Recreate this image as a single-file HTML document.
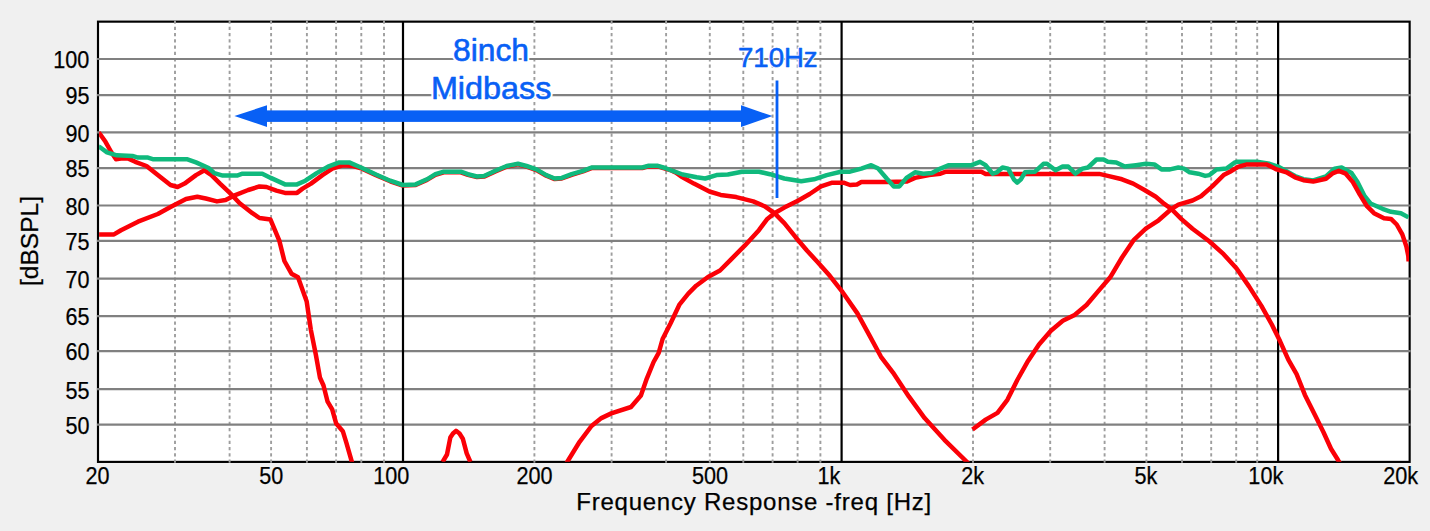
<!DOCTYPE html>
<html><head><meta charset="utf-8"><title>Frequency Response</title>
<style>
html,body{margin:0;padding:0;background:#f0f0f0;}
body{width:1430px;height:531px;overflow:hidden;font-family:"Liberation Sans",sans-serif;}
svg{display:block;font-family:"Liberation Sans",sans-serif;}
</style></head><body>
<svg width="1430" height="531" viewBox="0 0 1430 531">
<defs><clipPath id="c"><rect x="99.1" y="22.75" width="1309.95" height="438.95"/></clipPath></defs>
<rect x="0" y="0" width="1430" height="531" fill="#f0f0f0"/>
<rect x="98.0" y="21.65" width="1311.65" height="440.25" fill="#fff" stroke="#000" stroke-width="2.15"/>
<line x1="175.0" y1="20.5" x2="175.0" y2="462.9" stroke="#9e9e9e" stroke-width="1.9" stroke-dasharray="3.25 3.021"/>
<line x1="229.6" y1="20.5" x2="229.6" y2="462.9" stroke="#9e9e9e" stroke-width="1.9" stroke-dasharray="3.25 3.021"/>
<line x1="271.1" y1="20.5" x2="271.1" y2="462.9" stroke="#9e9e9e" stroke-width="1.9" stroke-dasharray="3.25 3.021"/>
<line x1="306.9" y1="20.5" x2="306.9" y2="462.9" stroke="#9e9e9e" stroke-width="1.9" stroke-dasharray="3.25 3.021"/>
<line x1="336.1" y1="20.5" x2="336.1" y2="462.9" stroke="#9e9e9e" stroke-width="1.9" stroke-dasharray="3.25 3.021"/>
<line x1="361.3" y1="20.5" x2="361.3" y2="462.9" stroke="#9e9e9e" stroke-width="1.9" stroke-dasharray="3.25 3.021"/>
<line x1="384.0" y1="20.5" x2="384.0" y2="462.9" stroke="#9e9e9e" stroke-width="1.9" stroke-dasharray="3.25 3.021"/>
<line x1="534.4" y1="20.5" x2="534.4" y2="462.9" stroke="#9e9e9e" stroke-width="1.9" stroke-dasharray="3.25 3.021"/>
<line x1="611.6" y1="20.5" x2="611.6" y2="462.9" stroke="#9e9e9e" stroke-width="1.9" stroke-dasharray="3.25 3.021"/>
<line x1="666.1" y1="20.5" x2="666.1" y2="462.9" stroke="#9e9e9e" stroke-width="1.9" stroke-dasharray="3.25 3.021"/>
<line x1="709.8" y1="20.5" x2="709.8" y2="462.9" stroke="#9e9e9e" stroke-width="1.9" stroke-dasharray="3.25 3.021"/>
<line x1="743.3" y1="20.5" x2="743.3" y2="462.9" stroke="#9e9e9e" stroke-width="1.9" stroke-dasharray="3.25 3.021"/>
<line x1="772.6" y1="20.5" x2="772.6" y2="462.9" stroke="#9e9e9e" stroke-width="1.9" stroke-dasharray="3.25 3.021"/>
<line x1="797.6" y1="20.5" x2="797.6" y2="462.9" stroke="#9e9e9e" stroke-width="1.9" stroke-dasharray="3.25 3.021"/>
<line x1="820.4" y1="20.5" x2="820.4" y2="462.9" stroke="#9e9e9e" stroke-width="1.9" stroke-dasharray="3.25 3.021"/>
<line x1="973.0" y1="20.5" x2="973.0" y2="462.9" stroke="#9e9e9e" stroke-width="1.9" stroke-dasharray="3.25 3.021"/>
<line x1="1050.2" y1="20.5" x2="1050.2" y2="462.9" stroke="#9e9e9e" stroke-width="1.9" stroke-dasharray="3.25 3.021"/>
<line x1="1104.6" y1="20.5" x2="1104.6" y2="462.9" stroke="#9e9e9e" stroke-width="1.9" stroke-dasharray="3.25 3.021"/>
<line x1="1146.4" y1="20.5" x2="1146.4" y2="462.9" stroke="#9e9e9e" stroke-width="1.9" stroke-dasharray="3.25 3.021"/>
<line x1="1182.0" y1="20.5" x2="1182.0" y2="462.9" stroke="#9e9e9e" stroke-width="1.9" stroke-dasharray="3.25 3.021"/>
<line x1="1211.2" y1="20.5" x2="1211.2" y2="462.9" stroke="#9e9e9e" stroke-width="1.9" stroke-dasharray="3.25 3.021"/>
<line x1="1236.2" y1="20.5" x2="1236.2" y2="462.9" stroke="#9e9e9e" stroke-width="1.9" stroke-dasharray="3.25 3.021"/>
<line x1="1257.2" y1="20.5" x2="1257.2" y2="462.9" stroke="#9e9e9e" stroke-width="1.9" stroke-dasharray="3.25 3.021"/>
<line x1="96.9" y1="59.0" x2="1410.75" y2="59.0" stroke="#808080" stroke-width="2.2"/>
<line x1="96.9" y1="95.1" x2="1410.75" y2="95.1" stroke="#808080" stroke-width="2.2"/>
<line x1="96.9" y1="132.4" x2="1410.75" y2="132.4" stroke="#808080" stroke-width="2.2"/>
<line x1="96.9" y1="168.1" x2="1410.75" y2="168.1" stroke="#808080" stroke-width="2.2"/>
<line x1="96.9" y1="205.5" x2="1410.75" y2="205.5" stroke="#808080" stroke-width="2.2"/>
<line x1="96.9" y1="240.9" x2="1410.75" y2="240.9" stroke="#808080" stroke-width="2.2"/>
<line x1="96.9" y1="278.6" x2="1410.75" y2="278.6" stroke="#808080" stroke-width="2.2"/>
<line x1="96.9" y1="316.1" x2="1410.75" y2="316.1" stroke="#808080" stroke-width="2.2"/>
<line x1="96.9" y1="351.1" x2="1410.75" y2="351.1" stroke="#808080" stroke-width="2.2"/>
<line x1="96.9" y1="389.2" x2="1410.75" y2="389.2" stroke="#808080" stroke-width="2.2"/>
<line x1="96.9" y1="424.7" x2="1410.75" y2="424.7" stroke="#808080" stroke-width="2.2"/>
<line x1="403.0" y1="21.65" x2="403.0" y2="461.9" stroke="#000" stroke-width="2.2"/>
<line x1="841.6" y1="21.65" x2="841.6" y2="461.9" stroke="#000" stroke-width="2.2"/>
<line x1="1278.1" y1="21.65" x2="1278.1" y2="461.9" stroke="#000" stroke-width="2.2"/>
<g clip-path="url(#c)">
<polyline points="98.5,132.5 100.5,134.8 105.5,141.8 111.2,152.0 116.0,159.2 121.0,158.6 128.5,158.6 135.2,161.8 146.5,166.0 157.8,175.1 170.5,185.0 177.6,187.0 184.6,183.6 196.0,175.1 204.4,170.3 211.5,175.1 220.0,183.6 229.8,192.9 239.7,203.3 252.4,213.2 259.5,218.0 270.5,219.6 279.3,240.6 284.4,261.0 291.5,273.7 298.0,277.2 306.7,301.6 310.8,329.6 315.9,355.0 320.0,377.8 323.5,385.5 327.6,401.7 332.2,409.3 336.2,423.6 342.8,431.2 346.4,442.9 351.5,460.7 352.3,463.5" fill="none" stroke="#fb0007" stroke-width="4.5" stroke-linejoin="round" stroke-linecap="butt"/>
<polyline points="442.6,462.0 447.0,454.5 450.3,437.6 453.0,433.5 456.0,430.8 459.5,433.5 462.8,438.7 466.7,453.4 470.4,462.0" fill="none" stroke="#fb0007" stroke-width="4.5" stroke-linejoin="round" stroke-linecap="butt"/>
<polyline points="98.5,234.4 114.0,234.4 121.0,230.2 138.0,221.7 157.8,214.0 170.5,207.0 186.0,199.0 197.3,196.8 205.8,198.5 217.0,201.4 225.6,200.0 234.0,195.7 248.2,190.0 259.5,186.4 266.5,187.0 276.4,190.6 285.0,192.9 297.0,192.9 302.6,188.6 311.0,183.6 322.4,175.1 332.3,168.6 343.6,165.2 353.4,166.0 362.0,168.6 376.0,175.1 390.2,181.3 402.9,185.6 415.6,185.0 427.0,179.9 435.4,174.8 443.8,172.3 460.8,172.3 467.9,174.8 477.0,177.1 484.0,176.6 495.4,171.4 506.7,166.6 518.0,164.4 526.5,166.6 536.4,170.0 546.3,175.7 554.7,179.1 561.8,178.5 571.7,174.8 583.0,171.4 591.5,168.1 642.3,168.1 648.0,166.4 657.9,166.4 665.0,168.6 671.3,170.4 676.0,172.6 681.2,176.5 693.9,183.6 709.4,191.5 720.7,194.9 736.3,197.1 753.2,201.4 764.5,206.2 774.4,213.2 784.3,223.1 795.6,237.2 806.9,250.5 818.2,262.7 829.8,275.8 841.6,290.8 857.4,313.4 869.3,335.1 881.0,356.8 893.0,372.6 908.8,396.4 924.6,418.1 944.4,439.8 966.0,461.0 968.5,463.5" fill="none" stroke="#fb0007" stroke-width="4.5" stroke-linejoin="round" stroke-linecap="butt"/>
<polyline points="566.3,463.5 567.8,461.0 579.6,441.8 591.5,426.0 601.4,418.1 611.3,413.4 631.0,407.0 640.9,395.6 646.8,378.6 653.6,362.0 658.7,352.9 662.6,339.0 670.6,323.2 679.6,304.3 688.3,293.6 696.2,285.7 708.0,277.0 720.0,270.5 730.6,259.8 744.7,245.7 758.9,230.2 767.3,218.9 774.4,213.2 784.3,207.6 798.4,200.5 809.7,194.0 821.0,186.4 832.3,182.7 843.6,182.7 850.0,185.0 857.0,184.4 861.3,182.1 886.7,182.1 906.5,181.6 915.0,177.9 929.0,175.1 940.4,173.7 946.0,171.7 981.4,171.7 985.6,173.9 1099.3,173.9 1107.8,175.9 1122.0,179.3 1133.2,183.6 1144.5,190.0 1155.8,196.8 1164.3,203.9 1171.4,209.0 1181.2,218.9 1192.5,228.8 1209.5,241.5 1223.6,254.2 1236.6,268.5 1249.0,286.4 1261.4,305.9 1271.8,324.5 1280.0,341.1 1288.3,359.7 1296.6,374.2 1304.9,394.9 1315.2,415.6 1323.5,432.2 1331.0,448.8 1338.0,460.0 1340.0,463.5" fill="none" stroke="#fb0007" stroke-width="4.5" stroke-linejoin="round" stroke-linecap="butt"/>
<polyline points="98.5,146.5 100.7,147.8 107.0,152.4 116.8,155.3 132.4,155.9 138.0,157.6 148.0,157.6 153.5,159.3 187.5,159.3 196.0,162.4 208.6,168.0 214.3,173.1 222.8,175.6 237.0,175.6 242.5,173.7 262.3,173.7 270.8,177.9 285.0,184.4 297.0,184.4 305.4,180.7 316.7,173.1 328.0,166.6 339.3,162.4 349.2,162.4 362.0,168.0 376.0,174.5 390.2,180.7 402.9,185.0 415.6,184.4 427.0,179.3 435.4,174.2 443.8,171.7 460.8,171.7 467.9,174.2 477.0,176.5 484.0,176.0 495.4,170.8 506.7,166.0 518.0,163.8 526.5,166.0 536.4,169.4 546.3,175.1 554.7,178.5 561.8,177.9 571.7,174.2 583.0,170.8 591.5,167.5 642.3,167.5 648.0,165.8 657.9,165.8 665.0,168.0 671.3,170.3 682.6,174.5 696.7,177.3 705.2,178.5 716.5,175.1 727.8,174.5 742.0,171.7 758.9,171.7 770.0,174.2 784.3,178.5 801.2,181.3 814.0,179.3 826.7,175.1 840.8,171.7 850.0,171.7 861.3,168.6 871.2,165.2 878.2,168.6 886.7,178.5 893.8,186.4 899.4,186.4 906.5,177.9 915.0,172.3 923.4,173.7 931.9,173.1 940.4,168.6 948.9,165.2 971.5,165.2 980.0,161.8 985.6,165.2 992.7,173.7 996.9,172.3 1002.5,167.5 1008.2,168.6 1013.8,179.3 1017.2,182.7 1020.9,179.3 1025.0,172.3 1035.0,171.7 1043.5,163.8 1047.0,163.8 1055.5,170.3 1062.6,166.5 1068.2,166.5 1075.3,173.7 1082.4,168.6 1088.0,167.5 1096.5,159.5 1103.6,159.5 1107.8,161.8 1116.3,162.4 1124.7,166.6 1136.0,165.2 1146.0,163.8 1154.4,164.4 1161.5,169.4 1170.0,169.4 1178.4,167.5 1184.0,168.6 1189.7,172.3 1198.2,173.7 1205.2,175.9 1209.5,175.1 1216.5,169.4 1226.4,168.6 1235.0,162.4 1237.0,161.8 1256.8,161.8 1269.5,163.8 1278.0,166.6 1286.5,171.2 1295.0,176.0 1303.4,179.2 1313.3,180.5 1326.0,176.5 1334.5,168.6 1341.6,167.5 1351.5,173.0 1357.5,182.0 1364.5,196.0 1370.5,203.5 1382.5,208.8 1391.0,211.8 1400.9,213.2 1408.5,217.4" fill="none" stroke="#10b97d" stroke-width="4.5" stroke-linejoin="round" stroke-linecap="butt"/>
<polyline points="972.5,429.5 985.7,419.6 997.5,412.9 1007.4,399.8 1017.3,380.0 1027.2,362.3 1039.0,344.5 1050.9,330.7 1062.8,320.8 1074.6,314.9 1086.5,305.0 1098.3,291.1 1110.2,277.3 1122.0,257.5 1133.9,239.8 1145.8,228.7 1158.6,220.3 1171.4,209.0 1178.4,204.7 1192.5,200.5 1201.0,196.3 1212.3,186.4 1223.6,175.1 1230.0,171.7 1238.5,166.6 1247.0,164.4 1266.7,164.4 1276.6,169.4 1286.5,172.3 1295.0,177.3 1303.4,180.2 1313.3,181.6 1326.0,178.8 1333.1,173.1 1338.8,170.8 1345.8,173.7 1352.9,182.1 1360.0,194.9 1367.0,206.2 1374.0,213.2 1384.0,218.3 1391.0,218.9 1396.7,224.5 1402.3,234.4 1406.4,246.5 1408.3,256.0 1408.6,261.5" fill="none" stroke="#fb0007" stroke-width="4.5" stroke-linejoin="round" stroke-linecap="butt"/>
</g>

<g font-size="32" text-anchor="middle" stroke-linejoin="round">
<text x="491" y="60.6" fill="#fff" stroke="#fff" stroke-width="4.5" textLength="76" lengthAdjust="spacingAndGlyphs">8inch</text>
<text x="491.2" y="98.7" fill="#fff" stroke="#fff" stroke-width="4.5" textLength="120.6" lengthAdjust="spacingAndGlyphs">Midbass</text>
<text x="491" y="60.6" fill="#0860f5" stroke="#0860f5" stroke-width="0.6" textLength="76" lengthAdjust="spacingAndGlyphs">8inch</text>
<text x="491.2" y="98.7" fill="#0860f5" stroke="#0860f5" stroke-width="0.6" textLength="120.6" lengthAdjust="spacingAndGlyphs">Midbass</text>
</g>
<g font-size="27.5" text-anchor="middle" stroke-linejoin="round">
<text x="777.8" y="66.7" fill="#fff" stroke="#fff" stroke-width="2.6" textLength="79.6" lengthAdjust="spacingAndGlyphs">710Hz</text>
<text x="777.8" y="66.7" fill="#0860f5" stroke="#0860f5" stroke-width="0.6" textLength="79.6" lengthAdjust="spacingAndGlyphs">710Hz</text>
</g>
<rect x="266" y="110.4" width="476" height="11.5" fill="#0860f5"/>
<polygon points="234.4,116.1 267,105.3 267,126.9" fill="#0860f5"/>
<polygon points="772.5,116.1 741,105.3 741,126.9" fill="#0860f5"/>
<line x1="777.0" y1="80.5" x2="777.0" y2="198" stroke="#0860f5" stroke-width="2.8"/>

<g stroke="#000" stroke-width="0.25">
<text x="89.4" y="68.3" font-size="23" text-anchor="end" fill="#000" textLength="36.1" lengthAdjust="spacingAndGlyphs">100</text>
<text x="89.4" y="104.4" font-size="23" text-anchor="end" fill="#000" textLength="24.0" lengthAdjust="spacingAndGlyphs">95</text>
<text x="89.4" y="141.7" font-size="23" text-anchor="end" fill="#000" textLength="24.0" lengthAdjust="spacingAndGlyphs">90</text>
<text x="89.4" y="177.4" font-size="23" text-anchor="end" fill="#000" textLength="24.0" lengthAdjust="spacingAndGlyphs">85</text>
<text x="89.4" y="214.8" font-size="23" text-anchor="end" fill="#000" textLength="24.0" lengthAdjust="spacingAndGlyphs">80</text>
<text x="89.4" y="250.2" font-size="23" text-anchor="end" fill="#000" textLength="24.0" lengthAdjust="spacingAndGlyphs">75</text>
<text x="89.4" y="287.9" font-size="23" text-anchor="end" fill="#000" textLength="24.0" lengthAdjust="spacingAndGlyphs">70</text>
<text x="89.4" y="325.4" font-size="23" text-anchor="end" fill="#000" textLength="24.0" lengthAdjust="spacingAndGlyphs">65</text>
<text x="89.4" y="360.4" font-size="23" text-anchor="end" fill="#000" textLength="24.0" lengthAdjust="spacingAndGlyphs">60</text>
<text x="89.4" y="398.5" font-size="23" text-anchor="end" fill="#000" textLength="24.0" lengthAdjust="spacingAndGlyphs">55</text>
<text x="89.4" y="434.0" font-size="23" text-anchor="end" fill="#000" textLength="24.0" lengthAdjust="spacingAndGlyphs">50</text>
<text x="97.6" y="484.3" font-size="23" text-anchor="middle" fill="#000" textLength="24.0" lengthAdjust="spacingAndGlyphs">20</text>
<text x="271.2" y="484.3" font-size="23" text-anchor="middle" fill="#000" textLength="24.0" lengthAdjust="spacingAndGlyphs">50</text>
<text x="391.2" y="484.3" font-size="23" text-anchor="middle" fill="#000" textLength="36.1" lengthAdjust="spacingAndGlyphs">100</text>
<text x="534.5" y="484.3" font-size="23" text-anchor="middle" fill="#000" textLength="36.1" lengthAdjust="spacingAndGlyphs">200</text>
<text x="710" y="484.3" font-size="23" text-anchor="middle" fill="#000" textLength="36.1" lengthAdjust="spacingAndGlyphs">500</text>
<text x="828.9" y="484.3" font-size="23" text-anchor="middle" fill="#000" textLength="22.8" lengthAdjust="spacingAndGlyphs">1k</text>
<text x="972.6" y="484.3" font-size="23" text-anchor="middle" fill="#000" textLength="22.8" lengthAdjust="spacingAndGlyphs">2k</text>
<text x="1145.8" y="484.3" font-size="23" text-anchor="middle" fill="#000" textLength="22.8" lengthAdjust="spacingAndGlyphs">5k</text>
<text x="1265.8" y="484.3" font-size="23" text-anchor="middle" fill="#000" textLength="34.9" lengthAdjust="spacingAndGlyphs">10k</text>
<text x="1400.7" y="484.3" font-size="23" text-anchor="middle" fill="#000" textLength="34.9" lengthAdjust="spacingAndGlyphs">20k</text>
<text x="753.7" y="510.2" font-size="24" text-anchor="middle" fill="#000" textLength="355" lengthAdjust="spacing">Frequency Response -freq [Hz]</text>
<text transform="translate(37.6,241) rotate(-90)" font-size="24.6" text-anchor="middle" fill="#000">[dBSPL]</text>
</g>
</svg>
</body></html>
